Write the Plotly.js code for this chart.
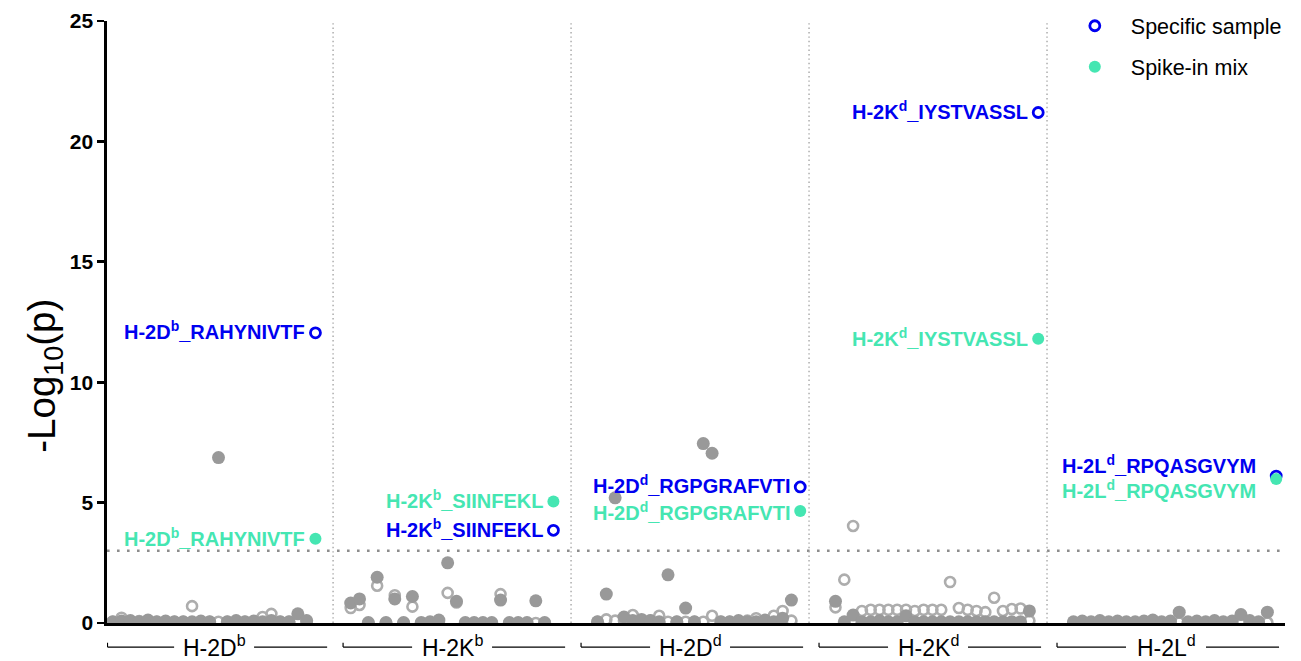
<!DOCTYPE html>
<html>
<head>
<meta charset="utf-8">
<script src="https://cdn.plot.ly/plotly-3.0.1.min.js"></script>
<style>html,body{margin:0;padding:0;background:#fff;}#chart{width:1301px;height:661px;}</style>
</head>
<body>
<div id="chart"></div>
<script>
// ---------- data ----------
const alleles = ['H-2D<sup>b</sup>', 'H-2K<sup>b</sup>', 'H-2D<sup>d</sup>', 'H-2K<sup>d</sup>', 'H-2L<sup>d</sup>'];

// peptide rank (position slot inside each allele block)
const ranksDb = [2,3,4,5,6,7,8,9,10,11,12,13,14,15,16,17,18,19,20,21,22,23,24];
const ranksKb = [2,3,4,5,6,7,8,9,10,11,12,13,14,15,16,17,18,19,20,21,22,23,24];
const ranksDd = [3,4,5,6,7,8,9,10,11,12,13,14,15,16,17,18,19,20,21,22,23,24,25];
const ranksKd = [3,4,5,6,7,8,9,10,11,12,13,14,15,16,17,18,19,20,21,22,23,24,25];
const ranksLd = [3,4,5,6,7,8,9,10,11,12,13,14,15,16,17,18,19,20,21,22,23,24,25];

// -log10(p), specific sample (open grey)
const specDb = [0.05,0.22,0.05,0.08,0.05,0.05,0.05,0.05,0.05,0.7,0.05,0.05,0.05,0.05,0.05,0.05,0.05,0.25,0.38,0.05,0.05,0.05,0.05];
const specKb = [0.62,0.75,0,1.55,0,1.15,0,0.68,0,0,0,1.25,0.85,0,0,0,0,1.2,0,0,0,0,0];
const specDd = [0.05,0.15,0.1,0.1,0.33,0.05,0.1,0.3,0.05,0.05,0.05,0.05,0.05,0.3,0.05,0.05,0.05,0.1,0.2,0.05,0.3,0.5,0.1];
const specKd = [0.65,1.8,4.03,0.5,0.55,0.55,0.55,0.55,0.55,0.5,0.55,0.55,0.55,1.7,0.62,0.55,0.5,0.45,1.05,0.5,0.58,0.6,0.1];
const specLd = [0.02,0.02,0.02,0.02,0.02,0.02,0.02,0.02,0.02,0.02,0.02,0.02,0.02,0.02,0.02,0.02,0.02,0.02,0.02,0.02,0.02,0.02,0.02];

// -log10(p), spike-in mix (filled grey)
const spikeDb = [0.05,0.08,0.1,0.05,0.12,0.05,0.08,0.05,0.05,0.05,0.08,0.05,6.87,0.05,0.1,0.05,0.08,0.05,0.1,0.05,0.05,0.38,0.1];
const spikeKb = [0.83,1.0,0.02,1.9,0.02,1.0,0.02,1.1,0.02,0.05,0.12,2.5,0.9,0.02,0.02,0.02,0.02,0.95,0.02,0.02,0.02,0.92,0.02];
const spikeDd = [0.05,1.2,5.2,0.25,0.1,0.15,0.1,0.05,2.0,0.05,0.62,0.05,7.45,7.05,0.05,0.05,0.1,0.05,0.05,0.12,0.05,0.2,0.95];
const spikeKd = [0.9,0.05,0.33,0.05,0.05,0.1,0.05,0.05,0.3,0.05,0.05,0.05,0.05,0.05,0.05,0.05,0.05,0.05,0.05,0.05,0.05,0.05,0.5];
const spikeLd = [0.05,0.08,0.05,0.1,0.05,0.08,0.05,0.05,0.08,0.12,0.05,0.08,0.45,0.05,0.08,0.05,0.1,0.05,0.08,0.35,0.1,0.05,0.45];

// highlighted target peptides
const hlPeptide  = ['RAHYNIVTF', 'SIINFEKL', 'RGPGRAFVTI', 'IYSTVASSL', 'RPQASGVYM'];
const hlRank     = [25, 25, 26, 26, 26];
const hlSpecific = [12.05, 3.85, 5.65, 21.2, 6.1];
const hlSpike    = [3.5, 5.05, 4.65, 11.8, 5.98];

const threshold = 3;

// ---------- build ----------
const SLOTS = 27;
const toX = (g, r) => g + r / SLOTS;
const rankSets = [ranksDb, ranksKb, ranksDd, ranksKd, ranksLd];
const specSets = [specDb, specKb, specDd, specKd, specLd];
const spikeSets = [spikeDb, spikeKb, spikeDd, spikeKd, spikeLd];

const BLUE = '#0000f0', TEAL = '#45e6b2', GREY_OPEN = '#adadad', GREY_FILL = '#999999';
const FONT = 'Liberation Sans, Arial, Helvetica, sans-serif';

let gx = [], gSpec = [], gSpike = [];
rankSets.forEach((rs, g) => rs.forEach((r, i) => {
  gx.push(toX(g, r)); gSpec.push(specSets[g][i]); gSpike.push(spikeSets[g][i]);
}));
const hx = hlRank.map((r, g) => toX(g, r));

const traces = [
  {x: gx, y: gSpec, type: 'scatter', mode: 'markers', showlegend: false, hoverinfo: 'skip',
   marker: {symbol: 'circle-open', size: 10, color: GREY_OPEN, line: {width: 2.6, color: GREY_OPEN}}},
  {x: gx, y: gSpike, type: 'scatter', mode: 'markers', showlegend: false, hoverinfo: 'skip',
   marker: {symbol: 'circle', size: 13, color: GREY_FILL}},
  {x: hx, y: hlSpecific, type: 'scatter', mode: 'markers', name: 'Specific sample', legendrank: 1, legendgroup: 'a',
   marker: {symbol: 'circle-open', size: 10, color: BLUE, line: {width: 2.8, color: BLUE}}},
  {x: hx, y: hlSpike, type: 'scatter', mode: 'markers', name: 'Spike-in mix', legendrank: 2, legendgroup: 'b',
   marker: {symbol: 'circle', size: 12, color: TEAL}}
];

const shapes = [];
// threshold line
shapes.push({type: 'line', xref: 'paper', yref: 'y', x0: 0, x1: 1, y0: threshold, y1: threshold,
  line: {color: '#8c8c8c', width: 2.6, dash: '2.6px,7.4px'}, layer: 'below'});
// group separators
for (let g = 1; g < alleles.length; g++) {
  shapes.push({type: 'line', xref: 'x', yref: 'paper', x0: g, x1: g, y0: 0, y1: 1,
    line: {color: '#a6a6a6', width: 1.4, dash: '1.4px,3px'}, layer: 'below'});
}
const annotations = [];
const GAP = 0.168;
alleles.forEach((a, g) => {
  const x0 = g === 0 ? 0.052 : g + 0.042;
  const x1 = g + 0.975;
  shapes.push({type: 'line', xref: 'x', yref: 'paper', x0: x0, x1: g + 0.5 - GAP, y0: -0.04, y1: -0.04, line: {color: '#000', width: 1.2}});
  shapes.push({type: 'line', xref: 'x', yref: 'paper', x0: g + 0.5 + GAP, x1: x1, y0: -0.04, y1: -0.04, line: {color: '#000', width: 1.2}});
  shapes.push({type: 'line', xref: 'x', yref: 'paper', x0: x0, x1: x0, y0: -0.04, y1: -0.033, line: {color: '#000', width: 1.2}});
  annotations.push({xref: 'x', yref: 'paper', x: g + 0.5, y: -0.038, text: a, showarrow: false,
    xanchor: 'center', yanchor: 'middle', font: {family: FONT, size: 23, color: '#000'}});
});
// target labels
const labelShift = [
  {xs: -8, ys1: 2, ys2: 1}, {xs: -8, ys1: 2, ys2: 2}, {xs: -8, ys1: 2, ys2: 0},
  {xs: -8, ys1: 2, ys2: 1}, {xs: -18, ys1: 12, ys2: -10}
];
hlPeptide.forEach((p, g) => {
  const t = alleles[g] + '_' + p;
  annotations.push({xref: 'x', yref: 'y', x: hx[g], y: hlSpecific[g], text: t, showarrow: false,
    xanchor: 'right', yanchor: 'middle', xshift: labelShift[g].xs, yshift: labelShift[g].ys1,
    font: {family: FONT, size: 20, color: BLUE, weight: 'bold'}});
  annotations.push({xref: 'x', yref: 'y', x: hx[g], y: hlSpike[g], text: t, showarrow: false,
    xanchor: 'right', yanchor: 'middle', xshift: labelShift[g].xs, yshift: labelShift[g].ys2,
    font: {family: FONT, size: 20, color: TEAL, weight: 'bold'}});
});
// y-axis title (placed as annotation so it can sit lower, like the reference)
annotations.push({xref: 'paper', yref: 'paper', x: -0.053, y: 0.41, text: '-Log<sub>10</sub>(p)',
  textangle: -90, showarrow: false, xanchor: 'center', yanchor: 'middle',
  font: {family: FONT, size: 38.5, color: '#000'}});

const layout = {
  width: 1301, height: 661,
  margin: {l: 107, r: 16, t: 21, b: 38, autoexpand: false},
  paper_bgcolor: '#fff', plot_bgcolor: '#fff',
  font: {family: FONT, color: '#000'},
  showlegend: true,
  legend: {x: 0.808, y: 0.992, xref: 'paper', yref: 'container', xanchor: 'left', yanchor: 'top', bgcolor: 'rgba(0,0,0,0)',
    font: {family: FONT, size: 21.5, color: '#000'}, tracegroupgap: 10, itemwidth: 62},
  xaxis: {range: [0.05, 5.0], showgrid: false, zeroline: false, showticklabels: false, ticks: '',
    showline: true, linecolor: '#000', linewidth: 3, fixedrange: true},
  yaxis: {range: [0, 25], tickvals: [0,5,10,15,20,25], showgrid: false, zeroline: false,
    showline: true, linecolor: '#000', linewidth: 2.6, ticks: 'outside', ticklen: 7, tickwidth: 2.6, tickcolor: '#000',
    tickfont: {family: FONT, size: 21, color: '#000', weight: 'bold'}},
  shapes: shapes,
  annotations: annotations
};

Plotly.newPlot('chart', traces, layout, {displayModeBar: false, staticPlot: true});
</script>
</body>
</html>
